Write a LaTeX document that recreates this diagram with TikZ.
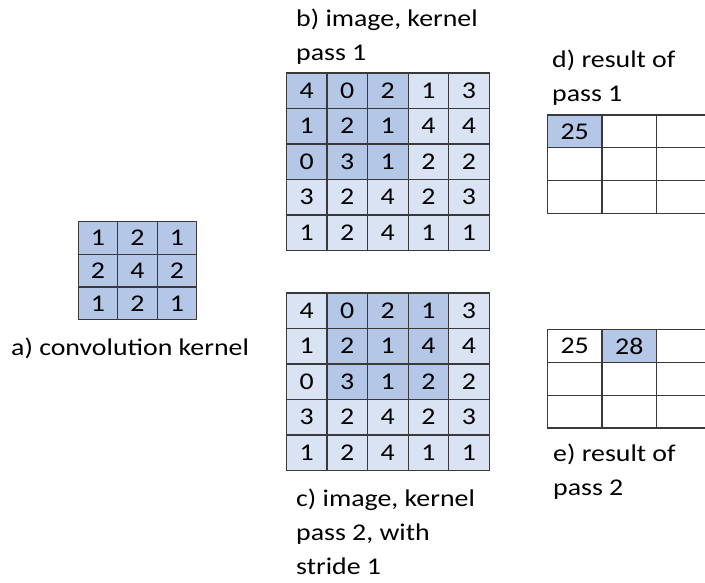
\documentclass[tikz,border=0pt]{standalone}
\usepackage{fontspec}
\setmainfont{Carlito}[FakeStretch=1.16]
\usepackage{tikz}
\usetikzlibrary{positioning}
\definecolor{darkcell}{HTML}{B4C7E7}
\definecolor{lightcell}{HTML}{DAE3F3}
\definecolor{gridgray}{HTML}{3A3A3A}

\begin{document}
\begin{tikzpicture}[x=1pt, y=-1pt, font=\fontsize{24}{34}\selectfont,
    cell/.style={draw=gridgray, line width=1.2pt, inner sep=0pt, anchor=north west},
    caption/.style={align=left, anchor=base west, inner sep=0pt}]
    \clip (0,0) rectangle (705,582);

    % a) kernel
    \foreach \row [count=\r from 0] in {{1,2,1},{2,4,2},{1,2,1}}
      \foreach \v [count=\c from 0] in \row
        \node[cell, fill=darkcell, minimum width=39.5pt, minimum height=32.7pt]
          (k-\r-\c) at ({77.7+39.5*\c},{221+32.7*\r}) {\v};

    % b) and c) image with kernel window
    \foreach \row [count=\r from 0] in {{4,0,2,1,3},{1,2,1,4,4},{0,3,1,2,2},{3,2,4,2,3},{1,2,4,1,1}}
      \foreach \v [count=\c from 0] in \row {
        \pgfmathtruncatemacro\mb{100*and(\r<3,\c<3)}
        \pgfmathtruncatemacro\mc{100*and(\r<3,and(\c>0,\c<4))}
        \node[cell, fill=darkcell!\mb!lightcell, minimum width=40.6pt, minimum height=35.5pt]
          (b-\r-\c) at ({285.7+40.6*\c},{72.3+35.5*\r}) {\v};
        \node[cell, fill=darkcell!\mc!lightcell, minimum width=40.6pt, minimum height=35.5pt]
          (c-\r-\c) at ({285.7+40.6*\c},{292.3+35.5*\r}) {\v};
      }

    % d) and e) results
    \foreach \row [count=\r from 0] in {{25,{},{}},{{},{},{}},{{},{},{}}}
      \foreach \v [count=\c from 0] in \row {
        \pgfmathtruncatemacro\md{100*and(\r==0,\c==0)}
        \node[cell, fill=darkcell!\md!white, minimum width=54.7pt, minimum height=32.8pt]
          (d-\r-\c) at ({546.7+54.7*\c},{114.3+32.8*\r}) {\v};
      }
    \foreach \row [count=\r from 0] in {{25,28,{}},{{},{},{}},{{},{},{}}}
      \foreach \v [count=\c from 0] in \row {
        \pgfmathtruncatemacro\me{100*and(\r==0,\c==1)}
        \node[cell, fill=darkcell!\me!white, minimum width=54.7pt, minimum height=32.8pt]
          (e-\r-\c) at ({546.7+54.7*\c},{329+32.8*\r}) {\v};
      }

    % captions (anchored at the baseline of their last line)
    \node[caption] (cap-a) at (11,355)  {a) convolution kernel};
    \node[caption] (cap-b) at (296,60)  {b) image, kernel\\pass 1};
    \node[caption] (cap-c) at (296,574) {c) image, kernel\\pass 2, with\\stride 1};
    \node[caption] (cap-d) at (552,101) {d) result of\\pass 1};
    \node[caption] (cap-e) at (553,495) {e) result of\\pass 2};
\end{tikzpicture}
\end{document}
